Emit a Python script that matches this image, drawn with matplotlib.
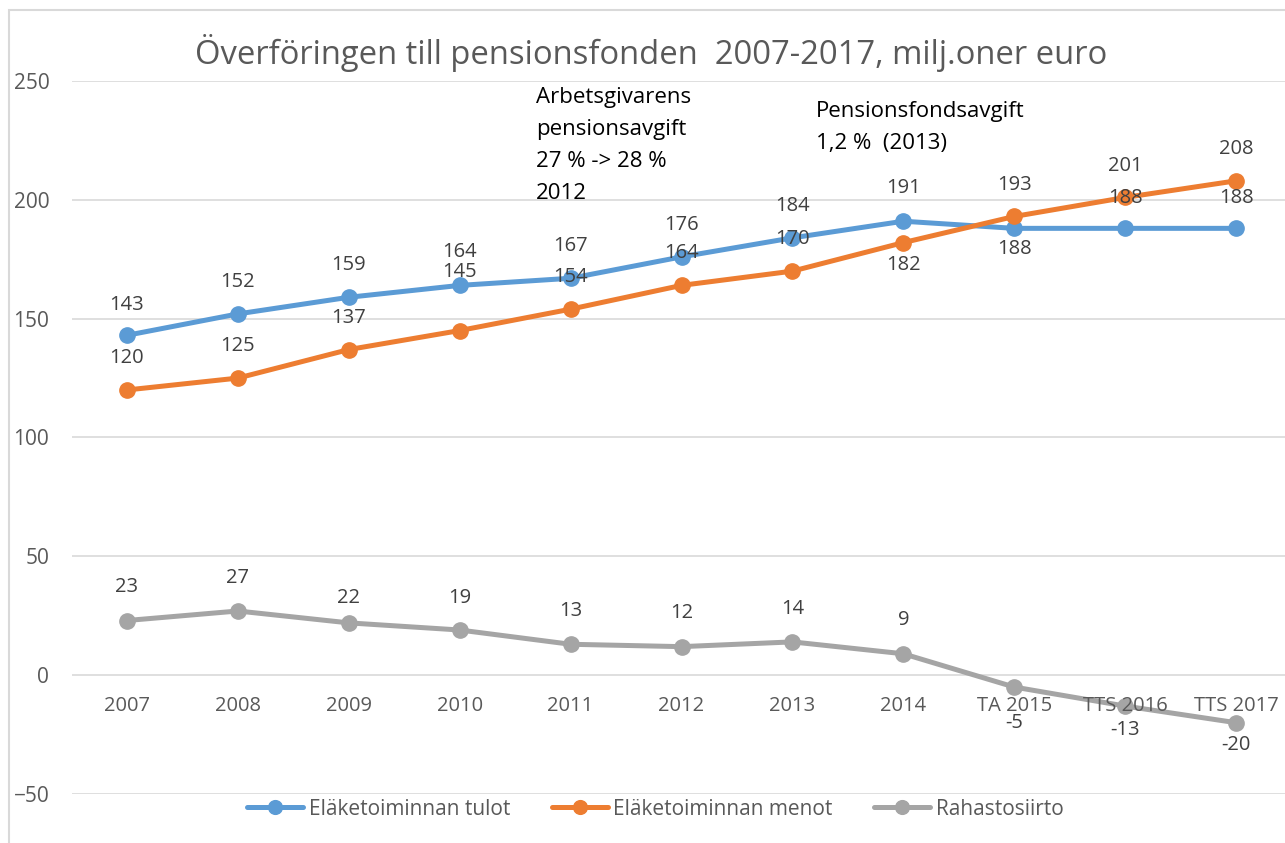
import matplotlib.pyplot as plt
from matplotlib.patches import Rectangle

# Data
categories = ['2007', '2008', '2009', '2010', '2011', '2012', '2013', '2014',
              'TA 2015', 'TTS 2016', 'TTS 2017']
tulot = [143, 152, 159, 164, 167, 176, 184, 191, 188, 188, 188]
menot = [120, 125, 137, 145, 154, 164, 170, 182, 193, 201, 208]
siirto = [23, 27, 22, 19, 13, 12, 14, 9, -5, -13, -20]
names = ['Eläketoiminnan tulot', 'Eläketoiminnan menot', 'Rahastosiirto']
colors = ['#5B9BD5', '#ED7D31', '#A5A5A5']

# label offsets in points (positive = above point)
offs = [
    [22, 23, 23, 24, 23, 23, 23, 24, -15, 22, 22],
    [23, 23, 23, 42, 23, 23, 23, -16, 23, 23, 23],
    [24, 24, 18, 23, 24, 24, 24, 24, -26, -17, -16],
]

plt.rcParams['font.family'] = ['Open Sans', 'DejaVu Sans']
fig = plt.figure(figsize=(12.85, 8.43), dpi=100)
fig.patches.append(Rectangle((9 / 1285, -0.1), 1.2, 1 - 10 / 843 + 0.1,
                             transform=fig.transFigure, fill=False,
                             edgecolor='#D9D9D9', linewidth=1.5))

ax = fig.add_axes([71.5 / 1285, 49 / 843, 1220 / 1285, 713 / 843])
ax.set_xlim(-0.5, len(categories) - 0.5)
ax.set_ylim(-50, 250)
ax.set_yticks(range(-50, 251, 50))
ax.grid(axis='y', color='#D9D9D9', linewidth=1.2)
ax.set_axisbelow(True)
for s in ax.spines.values():
    s.set_visible(False)
ax.tick_params(axis='both', length=0)
ax.tick_params(axis='y', labelsize=15, labelcolor='#595959', pad=16)
ax.set_xticks([])

x = list(range(len(categories)))
for vals, name, c, off in zip([tulot, menot, siirto], names, colors, offs):
    ax.plot(x, vals, color=c, linewidth=3.6, marker='o', markersize=11,
            label=name, solid_capstyle='round')
    for xi, v, o in zip(x, vals, off):
        ax.annotate(str(v), (xi, v), xytext=(0, o), textcoords='offset points',
                    ha='center', va='center', fontsize=14.5, color='#404040')

for xi, cat in zip(x, categories):
    ax.annotate(cat, (xi, 0), xytext=(0, -22), textcoords='offset points',
                ha='center', va='center', fontsize=14.5, color='#595959')

fig.text(0.507, 0.937, 'Överföringen till pensionsfonden  2007-2017, milj.oner euro',
         ha='center', va='center', fontsize=23.6, color='#595959')

ax.text(3.685, 247.5, 'Arbetsgivarens\npensionsavgift\n27 % -> 28 %\n2012',
        ha='left', va='top', fontsize=16, color='black', linespacing=1.68)
ax.text(6.216, 241.6, 'Pensionsfondsavgift\n1,2 %  (2013)',
        ha='left', va='top', fontsize=16, color='black', linespacing=1.68)

fig.legend(loc='center', bbox_to_anchor=(0.51, 0.04), ncol=3, frameon=False,
           fontsize=15, labelcolor='#595959', handlelength=2.7,
           handletextpad=0.25, columnspacing=2.0, markerscale=0.9)

fig.savefig('out.png', dpi=100)
